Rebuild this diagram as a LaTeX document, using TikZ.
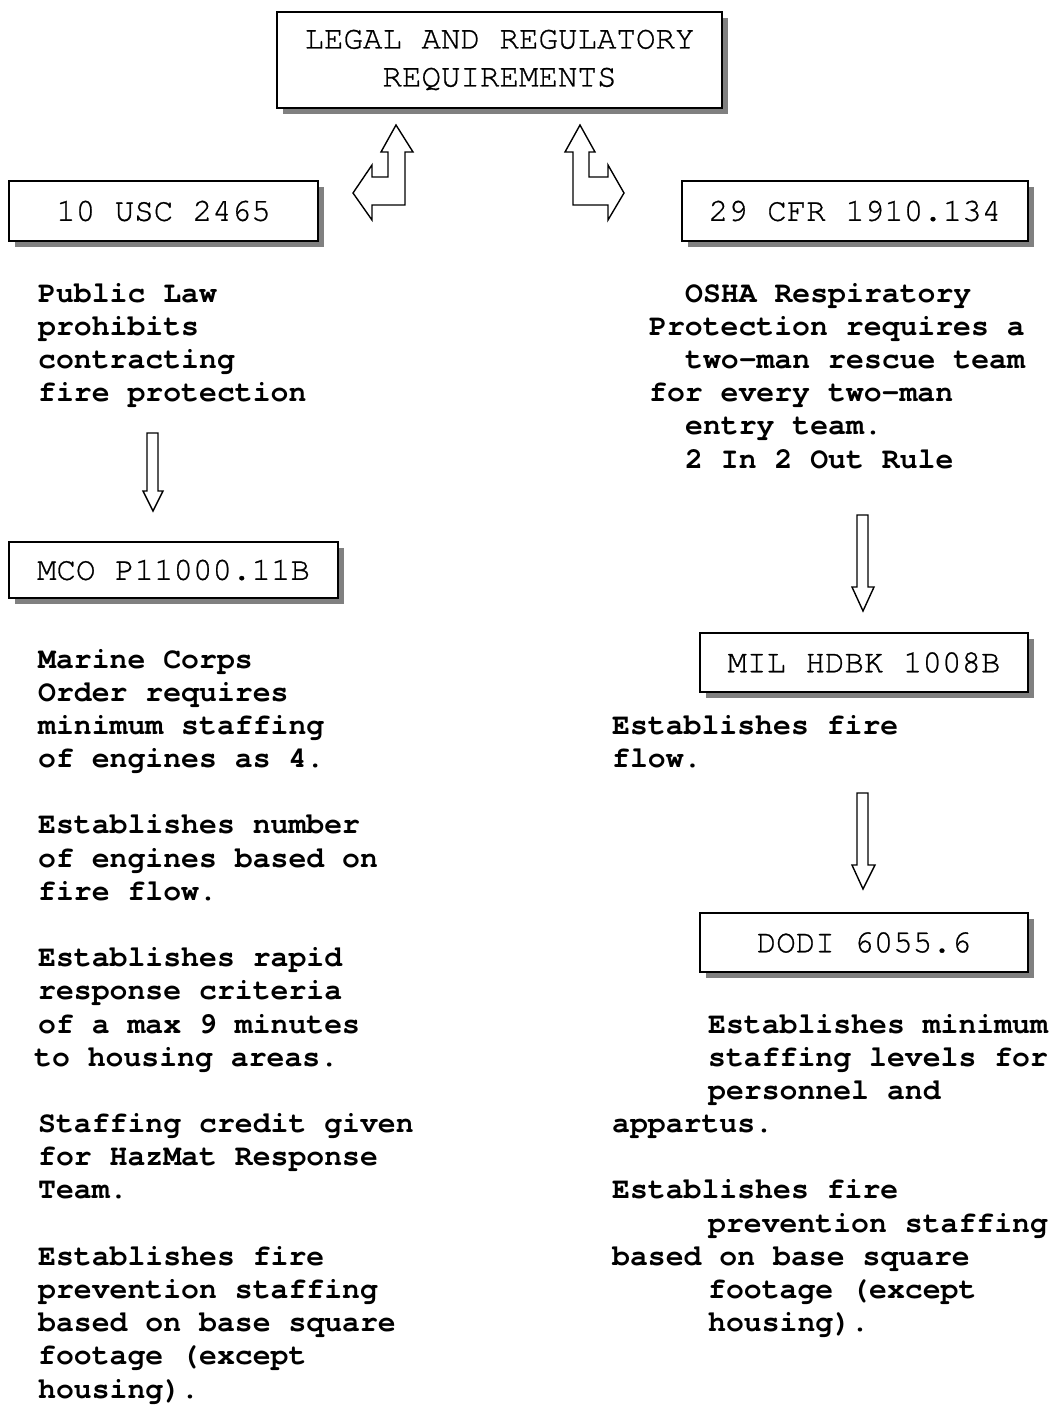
\documentclass[tikz,border=0pt]{standalone}
\usepackage{fontspec}
\setmonofont[Ligatures=NoCommon]{TeX Gyre Cursor}
\newfontfamily\boxfont[Ligatures=NoCommon,FakeBold=0.8]{TeX Gyre Cursor}
\usetikzlibrary{shadows}
\begin{document}
\begin{tikzpicture}[x=1pt,y=-1pt,
  regbox/.style={draw=black, line width=1.5pt, fill=white, inner sep=0pt,
    font=\fontsize{32.5}{38}\selectfont\boxfont,
    drop shadow={shadow xshift=6pt, shadow yshift=-6pt, fill=black!50, opacity=1}},
  body/.style={anchor=base west, inner sep=0pt, font=\fontsize{29.8}{33.2}\selectfont\ttfamily\bfseries},
  blockarrow/.style={draw=black, line width=1.4pt, fill=white, line join=miter}]
\useasboundingbox (0,0) rectangle (1056,1406);

% boxes
\node[regbox, minimum width=445pt, minimum height=96pt, align=center] (top) at (499.5,60) {LEGAL AND REGULATORY\\REQUIREMENTS};
\node[regbox, minimum width=309pt, minimum height=60pt] (usc) at (163.5,211) {10 USC 2465};
\node[regbox, minimum width=346pt, minimum height=60pt] (cfr) at (855,211) {29 CFR 1910.134};
\node[regbox, minimum width=329pt, minimum height=56pt] (mco) at (173.5,570) {MCO P11000.11B};
\node[regbox, minimum width=328pt, minimum height=59pt] (mil) at (864,662.5) {MIL HDBK 1008B};
\node[regbox, minimum width=328pt, minimum height=59pt] (dodi) at (864,942.5) {DODI 6055.6};

% bent block arrows
\draw[blockarrow] (372,165) -- (372,177) -- (388,177) -- (388,152) -- (381,152) -- (396,125)
  -- (413,152) -- (405,152) -- (405,205) -- (372,205) -- (372,220) -- (353,193) -- cycle;
\draw[blockarrow] (580,125) -- (595,152) -- (589,152) -- (589,177) -- (608,177) -- (608,165)
  -- (624,193) -- (608,220) -- (608,205) -- (573,205) -- (573,152) -- (565,152) -- cycle;

% down block arrows
\draw[blockarrow] (147,433) -- (158,433) -- (158,491) -- (163,491) -- (153,511) -- (143,491) -- (147,491) -- cycle;
\draw[blockarrow] (857,515) -- (868,515) -- (868,587) -- (874,587) -- (863,611) -- (852,587) -- (857,587) -- cycle;
\draw[blockarrow] (857,793) -- (868,793) -- (868,865) -- (875,865) -- (863,889) -- (852,865) -- (857,865) -- cycle;

% left upper text
\node[body] (l1) at (38,302) {Public Law};
\node[body] (l2) at (38,335.2) {prohibits};
\node[body] (l3) at (38,368.4) {contracting};
\node[body] (l4) at (38,401.6) {fire protection};

% right upper text
\node[body] (r1) at (685,302) {OSHA Respiratory};
\node[body] (r2) at (649,335.2) {Protection requires a};
\node[body] (r3) at (685,368.4) {two-man rescue team};
\node[body] (r4) at (649,401.6) {for every two-man};
\node[body] (r5) at (685,434.8) {entry team.};
\node[body] (r6) at (685,468) {2 In 2 Out Rule};

% left lower text
\node[body] (m0) at (38,668.0) {Marine Corps};
\node[body] (m1) at (38,701.2) {Order requires};
\node[body] (m2) at (38,734.4) {minimum staffing};
\node[body] (m3) at (38,767.5) {of engines as 4.};
\node[body] (m5) at (38,833.9) {Establishes number};
\node[body] (m6) at (38,867.1) {of engines based on};
\node[body] (m7) at (38,900.3) {fire flow.};
\node[body] (m9) at (38,966.6) {Establishes rapid};
\node[body] (m10) at (38,999.8) {response criteria};
\node[body] (m11) at (38,1033.0) {of a max 9 minutes};
\node[body] (m12) at (34,1066.2) {to housing areas.};
\node[body] (m14) at (38,1132.5) {Staffing credit given};
\node[body] (m15) at (38,1165.7) {for HazMat Response};
\node[body] (m16) at (38,1198.9) {Team.};
\node[body] (m18) at (38,1265.2) {Establishes fire};
\node[body] (m19) at (38,1298.4) {prevention staffing};
\node[body] (m20) at (38,1331.6) {based on base square};
\node[body] (m21) at (38,1364.8) {footage (except};
\node[body] (m22) at (38,1398.0) {housing).};

% right lower text
\node[body] (f1) at (612,734.4) {Establishes fire};
\node[body] (f2) at (612,767.5) {flow.};

\node[body] (d11) at (708,1033.0) {Establishes minimum};
\node[body] (d12) at (708,1066.2) {staffing levels for};
\node[body] (d13) at (708,1099.4) {personnel and};
\node[body] (d14) at (612,1132.5) {appartus.};
\node[body] (d16) at (612,1198.9) {Establishes fire};
\node[body] (d17) at (708,1232.1) {prevention staffing};
\node[body] (d18) at (612,1265.2) {based on base square};
\node[body] (d19) at (708,1298.4) {footage (except};
\node[body] (d20) at (708,1331.6) {housing).};
\end{tikzpicture}
\end{document}
